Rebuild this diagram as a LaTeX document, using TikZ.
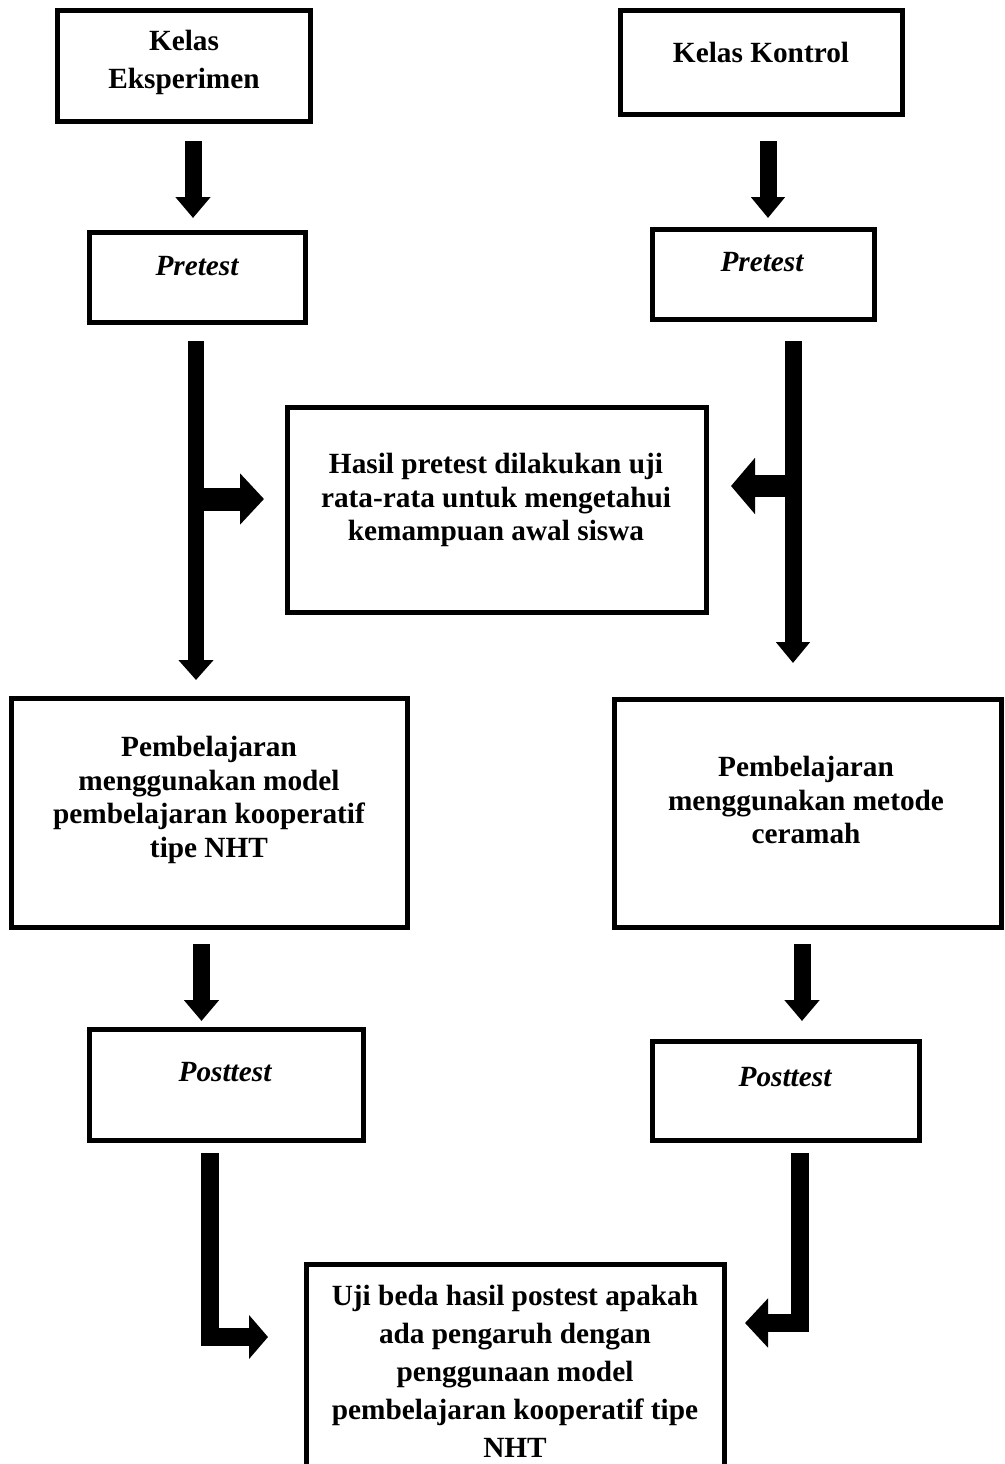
\documentclass[tikz,border=0pt]{standalone}
\usepackage{fontspec}
\setmainfont{Liberation Serif}
\usetikzlibrary{arrows.meta}
\begin{document}
\begin{tikzpicture}[x=1pt,y=-1pt]
\tikzset{
  boxnode/.style={draw=black,line width=5pt,inner sep=0pt,outer sep=0pt,fill=none},
  txtA/.style={align=center,inner sep=0pt,font=\bfseries\fontsize{29.3}{38}\selectfont},
  txtB/.style={align=center,inner sep=0pt,font=\bfseries\fontsize{29.3}{33.5}\selectfont},
  itxt/.style={inner sep=0pt,font=\bfseries\itshape\fontsize{29.3}{34}\selectfont},
  blk/.style={draw=black,line cap=butt,line join=miter}
}
\useasboundingbox (0,0) rectangle (1004,1464);
\fill[white] (0,0) rectangle (1004,1464);
\clip (0,0) rectangle (1004,1464);

% boxes
\node[boxnode,minimum width=253pt,minimum height=111pt] (b1) at (184,66) {};
\node[boxnode,minimum width=282pt,minimum height=104pt] (b2) at (761.5,62.5) {};
\node[boxnode,minimum width=216pt,minimum height=90pt] (p1) at (197.5,277.5) {};
\node[boxnode,minimum width=222pt,minimum height=90pt] (p2) at (763.5,274.5) {};
\node[boxnode,minimum width=419pt,minimum height=205pt] (mid) at (497,510) {};
\node[boxnode,minimum width=396pt,minimum height=229pt] (m1) at (209.5,813) {};
\node[boxnode,minimum width=387pt,minimum height=228pt] (m2) at (808,813.5) {};
\node[boxnode,minimum width=274pt,minimum height=111pt] (q1) at (226.5,1085) {};
\node[boxnode,minimum width=267pt,minimum height=99pt] (q2) at (786,1091) {};
\node[boxnode,minimum width=418pt,minimum height=208pt] (fin) at (515.5,1368.5) {};

% texts
\node[txtA] (t1) at (184,62.5) {Kelas\\Eksperimen};
\node[txtA] (t2) at (761,52.5) {Kelas Kontrol};
\node[itxt] (tp1) at (197,266.5) {Pretest};
\node[itxt] (tp2) at (762,262.5) {Pretest};
\node[txtB] (tmid) at (496,500) {Hasil pretest dilakukan uji\\rata-rata untuk mengetahui\\kemampuan awal siswa};
\node[txtB] (tm1) at (209,800) {Pembelajaran\\menggunakan model\\pembelajaran kooperatif\\tipe NHT};
\node[txtB] (tm2) at (806,800) {Pembelajaran\\menggunakan metode\\ceramah};
\node[itxt] (tq1) at (225,1072.5) {Posttest};
\node[itxt] (tq2) at (785,1077.5) {Posttest};
\node[txtA] (tfin) at (515,1371.5) {Uji beda hasil postest apakah\\ada pengaruh dengan\\penggunaan model\\pembelajaran kooperatif tipe\\NHT};

% arrow end points
\coordinate (a1s) at (193,141);  \coordinate (a1e) at (193,218);
\coordinate (a2s) at (768,141);  \coordinate (a2e) at (768,218);
\coordinate (a3s) at (196,341);  \coordinate (a3e) at (196,680);
\coordinate (a3b) at (196,499);  \coordinate (a3t) at (264,499);
\coordinate (a4s) at (793,341);  \coordinate (a4e) at (793,663);
\coordinate (a4b) at (793,486);  \coordinate (a4t) at (731,486);
\coordinate (a5s) at (201.5,944); \coordinate (a5e) at (201.5,1021);
\coordinate (a6s) at (802,944);  \coordinate (a6e) at (802,1021);
\coordinate (a7s) at (210,1153); \coordinate (a7e) at (268,1337);
\coordinate (a8s) at (800,1153); \coordinate (a8e) at (745,1323);

% arrows
\draw[blk,line width=17pt,-{Triangle[width=34pt,length=21pt]}] (a1s) -- (a1e);
\draw[blk,line width=17pt,-{Triangle[width=33pt,length=21pt]}] (a2s) -- (a2e);
\draw[blk,line width=16pt,-{Triangle[width=34pt,length=20pt]}] (a3s) -- (a3e);
\draw[blk,line width=23pt,-{Triangle[width=50pt,length=24pt]}] (a3b) -- (a3t);
\draw[blk,line width=17pt,-{Triangle[width=33pt,length=21pt]}] (a4s) -- (a4e);
\draw[blk,line width=22pt,-{Triangle[width=55pt,length=24pt]}] (a4b) -- (a4t);
\draw[blk,line width=17pt,-{Triangle[width=34pt,length=21pt]}] (a5s) -- (a5e);
\draw[blk,line width=17pt,-{Triangle[width=34pt,length=21pt]}] (a6s) -- (a6e);
\draw[blk,line width=18pt,-{Triangle[width=43pt,length=19pt]}] (a7s) |- (a7e);
\draw[blk,line width=18pt,-{Triangle[width=48pt,length=23pt]}] (a8s) |- (a8e);
\end{tikzpicture}
\end{document}
